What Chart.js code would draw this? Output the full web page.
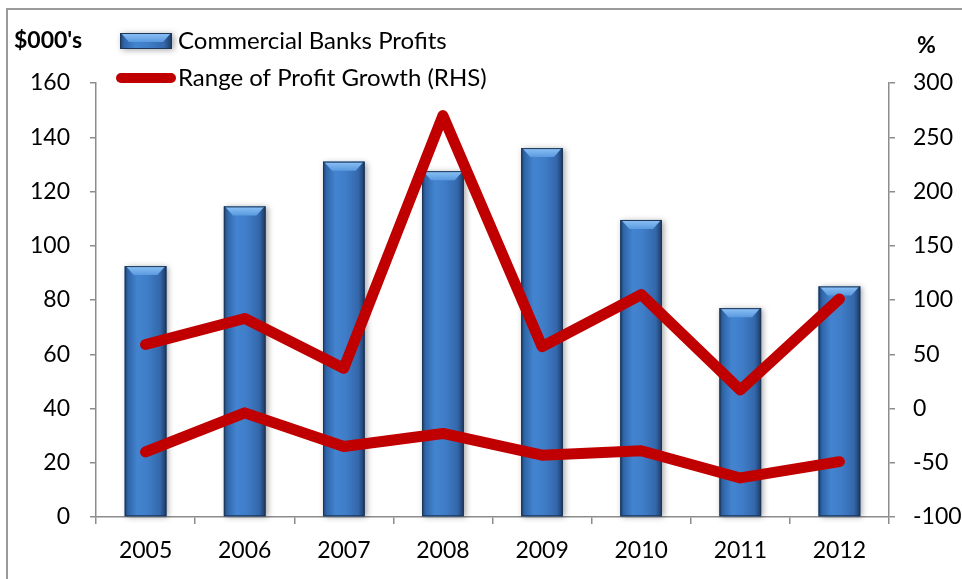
<!DOCTYPE html>
<html>
<head>
<meta charset="utf-8">
<script src="https://cdn.jsdelivr.net/npm/chart.js@4.4.1/dist/chart.umd.min.js"></script>
<style>
  html, body { margin: 0; padding: 0; background: #fff; }
  #wrap { position: relative; width: 962px; height: 579px; }
</style>
</head>
<body>
<div id="wrap"><canvas id="bankChart" width="962" height="579"></canvas></div>
<script>
    // years on the x axis
    var years = ["2005", "2006", "2007", "2008", "2009", "2010", "2011", "2012"];
    // commercial bank profits, $000's (left axis)
    var profits = [92.5, 114.5, 131, 127.5, 136, 109.5, 77, 85];
    // range of profit growth, % (right axis): upper and lower bound
    var growthHigh = [59, 83, 37, 270, 57, 105, 17, 101];
    var growthLow = [-40, -4, -35, -23, -43, -39, -64, -49];
    // axis ranges
    var leftMin = 0, leftMax = 160, leftStep = 20;
    var rightMin = -100, rightMax = 300, rightStep = 50;

    var RED = '#c00000';
    var AXIS = '#8c8c8c';
    var FONT = 'Lato, "Open Sans", sans-serif';

    // frame around the chart
    var framePlugin = {
      id: 'frame',
      beforeDraw: function(chart) {
        var ctx = chart.ctx;
        ctx.save();
        ctx.strokeStyle = '#9a9a9a';
        ctx.lineWidth = 2;
        ctx.beginPath();
        ctx.moveTo(7, 579);
        ctx.lineTo(7, 9);
        ctx.lineTo(962, 9);
        ctx.stroke();
        ctx.restore();
      }
    };

    // glossy cylinder-like bars
    function paintBar(ctx, el) {
      var w = el.width;
      var left = el.x - w / 2;
      var top = el.y;
      var h = el.base - el.y;

      ctx.save();
      ctx.shadowColor = 'rgba(0,0,0,0.35)';
      ctx.shadowBlur = 6;
      ctx.shadowOffsetX = 2;
      ctx.shadowOffsetY = 1;
      ctx.fillStyle = '#2f66a8';
      ctx.fillRect(left, top, w, h);
      ctx.restore();

      ctx.save();
      var g = ctx.createLinearGradient(left, 0, left + w, 0);
      g.addColorStop(0, '#1f3f6a');
      g.addColorStop(0.08, '#2f65a8');
      g.addColorStop(0.3, '#4384d0');
      g.addColorStop(0.55, '#3f7dc8');
      g.addColorStop(0.85, '#3467aa');
      g.addColorStop(0.95, '#24487a');
      g.addColorStop(1, '#1a3558');
      ctx.fillStyle = g;
      ctx.fillRect(left, top, w, h);

      // top bevel
      var bev = Math.min(9, h);
      var gb = ctx.createLinearGradient(0, top, 0, top + bev);
      gb.addColorStop(0, '#8cc2f5');
      gb.addColorStop(1, '#5b9ae0');
      ctx.fillStyle = gb;
      ctx.beginPath();
      ctx.moveTo(left + 1, top);
      ctx.lineTo(left + w - 1, top);
      ctx.lineTo(left + w - 9, top + bev);
      ctx.lineTo(left + 9, top + bev);
      ctx.closePath();
      ctx.fill();

      ctx.strokeStyle = '#1c3657';
      ctx.lineWidth = 1;
      ctx.strokeRect(left + 0.5, top + 0.5, w - 1, h - 1);
      ctx.restore();
    }

    var barPaintPlugin = {
      id: 'barPaint',
      beforeDatasetDraw: function(chart, args) {
        if (chart.data.datasets[args.index].type !== 'bar') return;
        var ctx = chart.ctx;
        args.meta.data.forEach(function(el) { paintBar(ctx, el); });
        return false;
      }
    };

    // legend and axis unit captions
    var captionPlugin = {
      id: 'captions',
      afterDraw: function(chart) {
        var ctx = chart.ctx;

        // bar swatch
        paintBar(ctx, { x: 146, y: 33, width: 52, base: 49 });
        // line swatch
        ctx.save();
        ctx.strokeStyle = RED;
        ctx.lineWidth = 10;
        ctx.lineCap = 'round';
        ctx.beginPath();
        ctx.moveTo(121, 78);
        ctx.lineTo(171, 78);
        ctx.stroke();
        ctx.restore();

        ctx.save();
        ctx.fillStyle = '#000';
        ctx.textBaseline = 'middle';
        ctx.textAlign = 'left';
        ctx.font = 'bold 23px ' + FONT;
        ctx.fillText("$000's", 14, 41);
        ctx.fillText('%', 917, 46);
        ctx.font = '24px ' + FONT;
        ctx.fillText('Commercial Banks Profits', 178, 41);
        ctx.fillText('Range of Profit Growth (RHS)', 178, 78);
        ctx.restore();
      }
    };

    var lineStyle = {
      type: 'line',
      yAxisID: 'y1',
      borderColor: RED,
      backgroundColor: RED,
      borderWidth: 11,
      borderCapStyle: 'round',
      borderJoinStyle: 'round',
      pointRadius: 0,
      tension: 0,
      fill: false,
      order: 0
    };

    var tickFont = { family: FONT, size: 23 };

    new Chart(document.getElementById('bankChart').getContext('2d'), {
      data: {
        labels: years,
        datasets: [
          {
            type: 'bar',
            label: 'Commercial Banks Profits',
            data: profits,
            yAxisID: 'y',
            backgroundColor: '#3f7dc8',
            barPercentage: 0.42,
            categoryPercentage: 1,
            order: 1
          },
          Object.assign({ label: 'Range of Profit Growth (RHS)', data: growthHigh }, lineStyle),
          Object.assign({ label: 'Range of Profit Growth low', data: growthLow }, lineStyle)
        ]
      },
      options: {
        responsive: false,
        animation: false,
        layout: { padding: { top: 83, left: 0, right: 0, bottom: 0 } },
        plugins: {
          legend: { display: false },
          tooltip: { enabled: false },
          title: { display: false }
        },
        scales: {
          x: {
            offset: true,
            grid: { display: true, drawOnChartArea: false, offset: true, color: AXIS, tickLength: 7, lineWidth: 1.5 },
            border: { color: AXIS, width: 1.5 },
            ticks: { color: '#000', font: tickFont, padding: 13, maxRotation: 0 },
            afterFit: function(scale) { scale.height = 62; }
          },
          y: {
            position: 'left',
            min: leftMin,
            max: leftMax,
            grid: { display: true, drawOnChartArea: false, color: AXIS, tickLength: 6, lineWidth: 1.5 },
            border: { color: AXIS, width: 1.5 },
            ticks: { stepSize: leftStep, color: '#000', font: tickFont, padding: 20 },
            afterFit: function(scale) { scale.width = 96; }
          },
          y1: {
            position: 'right',
            min: rightMin,
            max: rightMax,
            grid: { display: true, drawOnChartArea: false, color: AXIS, tickLength: 6, lineWidth: 1.5 },
            border: { color: AXIS, width: 1.5 },
            ticks: { stepSize: rightStep, color: '#000', font: tickFont, padding: 18 },
            afterFit: function(scale) { scale.width = 73; }
          }
        }
      },
      plugins: [framePlugin, barPaintPlugin, captionPlugin]
    });
</script>
</body>
</html>
